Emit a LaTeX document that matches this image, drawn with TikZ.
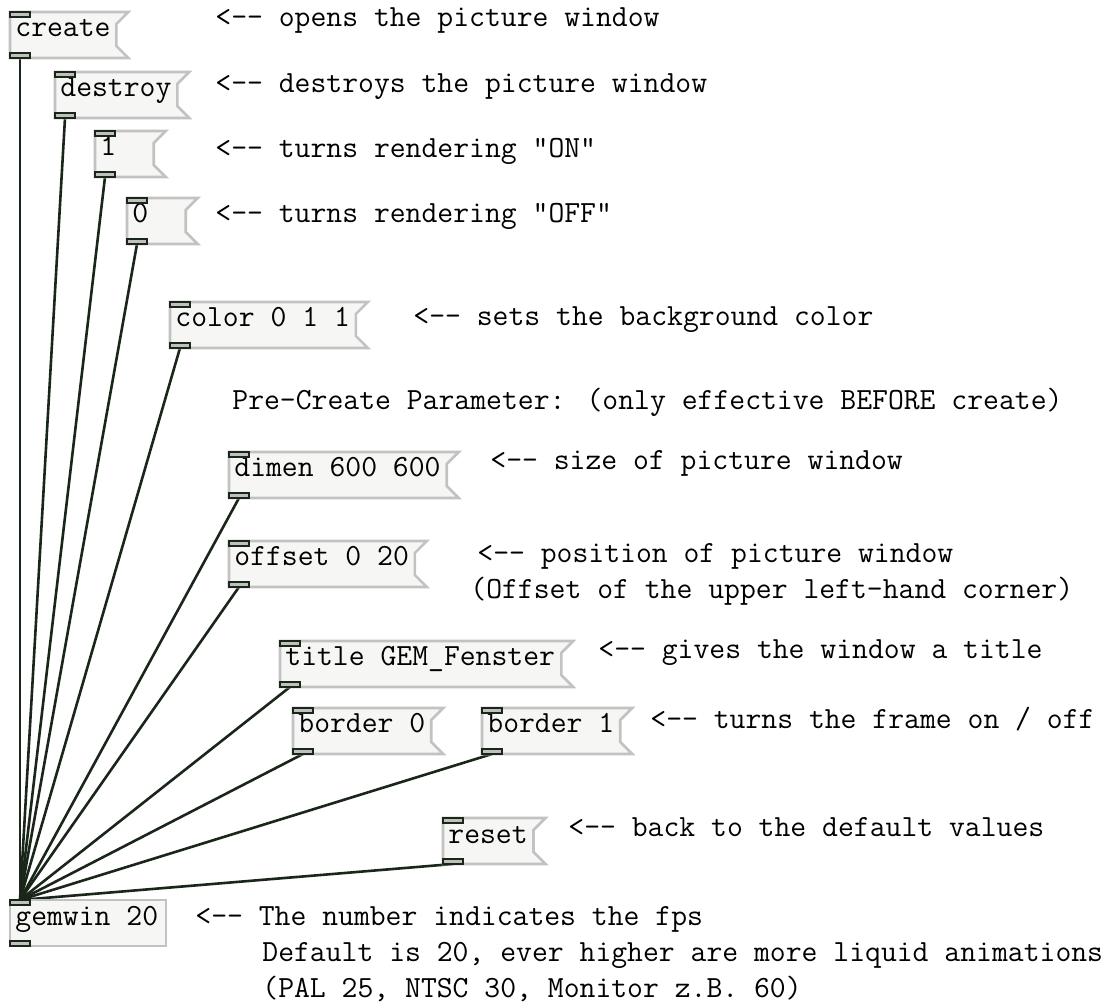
\documentclass[tikz,border=0pt]{standalone}
\usepackage{xcolor}
\usetikzlibrary{backgrounds}

\definecolor{pdline}{HTML}{1A261A}
\definecolor{pdframe}{HTML}{C2C2C2}
\definecolor{pdfill}{HTML}{F6F6F4}
\definecolor{pdport}{HTML}{BFC2BC}

\tikzset{
    pdbox/.style={draw=pdframe, fill=pdfill, line width=1.3pt},
    pdtxt/.style={anchor=base west, inner sep=0pt, font=\fontsize{15.4}{18}\selectfont\ttfamily},
    inlet/.style={draw=pdline, fill=pdport, line width=1.1pt},
    wire/.style={draw=pdline, line width=1.3pt}
}

\newcommand{\larr}{<-{}-}

% message box: name, left, top, chars, text
\newcommand{\pdmsg}[5]{%
    \pgfmathsetmacro{\boxr}{#2+23+15.9*max(#4,3)}
    \draw[pdbox] (#2,#3) -- (\boxr,#3) -- (\boxr-12,#3+12) -- (\boxr-12,#3+34) -- (\boxr,#3+46) -- (#2,#3+46) -- cycle;
    \node[pdtxt] (#1) at (#2+5,#3+25) {#5};
    \draw[inlet] (#2,#3) rectangle ++(20,5);
    \draw[inlet] (#2,#3+46) rectangle ++(20,-5);
    \coordinate (#1-out) at (#2+10,#3+46);
}

% object box: name, left, top, chars, text
\newcommand{\pdobj}[5]{%
    \pgfmathsetmacro{\boxr}{#2+13+15.9*max(#4,3)}
    \draw[pdbox] (#2,#3) rectangle (\boxr,#3+46);
    \node[pdtxt] (#1) at (#2+5,#3+25) {#5};
    \draw[inlet] (#2,#3) rectangle ++(20,5);
    \draw[inlet] (#2,#3+46) rectangle ++(20,-5);
    \coordinate (#1-in) at (#2+10,#3);
}

\begin{document}
\begin{tikzpicture}[x=0.5pt, y=-0.5pt]
    \useasboundingbox (0,0) rectangle (1115,1005);

    % messages
    \pdmsg{create}{10}{12}{6}{create}
    \pdmsg{destroy}{55}{72}{7}{destroy}
    \pdmsg{on}{95}{131}{1}{1}
    \pdmsg{off}{127}{198}{1}{0}
    \pdmsg{color}{170}{302}{11}{color 0 1 1}
    \pdmsg{dimen}{229}{452}{13}{dimen 600 600}
    \pdmsg{offset}{229}{541}{11}{offset 0 20}
    \pdmsg{title}{280}{641}{17}{title GEM\_Fenster}
    \pdmsg{borderoff}{293}{708}{8}{border 0}
    \pdmsg{borderon}{482}{708}{8}{border 1}
    \pdmsg{reset}{443}{818}{5}{reset}

    % the window object
    \pdobj{gemwin}{10}{900}{9}{gemwin 20}

    % comments
    \node[pdtxt] (c-create) at (215,27) {\larr{} opens the picture window};
    \node[pdtxt] (c-destroy) at (215,93) {\larr{} destroys the picture window};
    \node[pdtxt] (c-on) at (215,158) {\larr{} turns rendering "ON"};
    \node[pdtxt] (c-off) at (215,223) {\larr{} turns rendering "OFF"};
    \node[pdtxt] (c-color) at (413,326) {\larr{} sets the background color};
    \node[pdtxt] (c-pre) at (232,410) {Pre-Create Parameter: (only effective BEFORE create)};
    \node[pdtxt] (c-dimen) at (490,470) {\larr{} size of picture window};
    \node[pdtxt] (c-offset) at (477,563) {\larr{} position of picture window};
    \node[pdtxt] (c-offset2) at (470,599) {(Offset of the upper left-hand corner)};
    \node[pdtxt] (c-title) at (598,659) {\larr{} gives the window a title};
    \node[pdtxt] (c-border) at (650,728) {\larr{} turns the frame on / off};
    \node[pdtxt] (c-reset) at (568,836) {\larr{} back to the default values};
    \node[pdtxt] (c-fps) at (195,925) {\larr{} The number indicates the fps};
    \node[pdtxt] (c-fps2) at (262,961) {Default is 20, ever higher are more liquid animations};
    \node[pdtxt] (c-fps3) at (262,997) {(PAL 25, NTSC 30, Monitor z.B. 60)};

    % connections
    \begin{scope}[on background layer]
        \fill[white] (0,0) rectangle (1115,1005);
        \foreach \src in {create,destroy,on,off,color,dimen,offset,title,borderoff,borderon,reset}
            \draw[wire] (\src-out) -- (gemwin-in);
    \end{scope}
\end{tikzpicture}
\end{document}
